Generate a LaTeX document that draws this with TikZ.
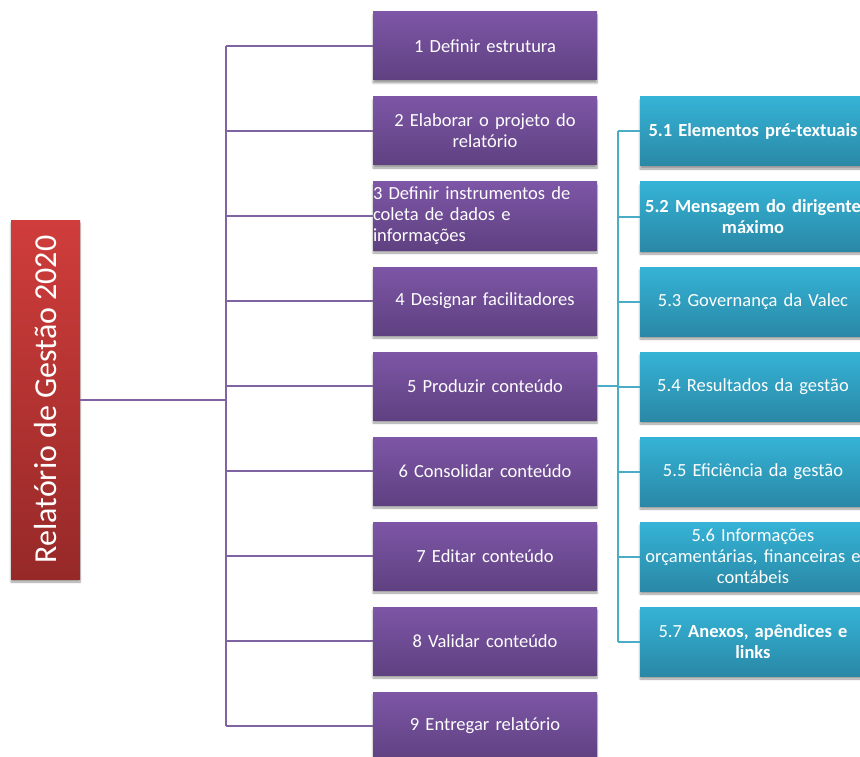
\documentclass[tikz,border=0pt]{standalone}
\usepackage{fontspec}
\setmainfont{Carlito}
\usetikzlibrary{shadows.blur}
\definecolor{pTop}{HTML}{7D56A6}
\definecolor{pBot}{HTML}{5F4181}
\definecolor{rTop}{HTML}{CF3D3B}
\definecolor{rBot}{HTML}{962928}
\definecolor{bTop}{HTML}{35B3D6}
\definecolor{bBot}{HTML}{2A88A6}
\definecolor{pLine}{HTML}{8064A2}
\definecolor{bLine}{HTML}{4BACC6}
\tikzset{
  shad/.style={blur shadow={shadow xshift=0pt,shadow yshift=-3pt,shadow blur steps=6,shadow opacity=40}},
  boxfont/.style={font=\fontsize{18.5}{21}\selectfont},
  pbox/.style={shad,rectangle,top color=pTop,bottom color=pBot,minimum width=224pt,minimum height=68pt,text=white,align=center,text width=220pt,inner sep=0pt,boxfont},
  bbox/.style={shad,rectangle,top color=bTop,bottom color=bBot,minimum width=226pt,minimum height=69pt,text=white,align=center,text width=226pt,inner sep=0pt,boxfont},
  tbox/.style={shad,rectangle,rotate=90,top color=rTop,bottom color=rBot,minimum width=359pt,minimum height=69pt,text=white,inner sep=0pt,font=\fontsize{32}{36}\selectfont},
  pconn/.style={draw=pLine,line width=2pt},
  bconn/.style={draw=bLine,line width=2pt},
}
\begin{document}
\hyphenpenalty=10000
\exhyphenpenalty=10000
\begin{tikzpicture}[x=1pt,y=-1pt]
\useasboundingbox (0,0) rectangle (860,757);
\node[tbox] (title) at (45.5,399.5) {Relatório de Gestão 2020};
\node[pbox] (p1) at (485,46) {1 Definir estrutura};
\node[pbox] (p2) at (485,131) {2 Elaborar o projeto do\\relatório};
\node[pbox,text width=224pt,align=left] (p3) at (485,216) {3 Definir instrumentos de\\coleta de dados e\\informações};
\node[pbox] (p4) at (485,301) {4 Designar facilitadores};
\node[pbox] (p5) at (485,386) {5 Produzir conteúdo};
\node[pbox] (p6) at (485,471) {6 Consolidar conteúdo};
\node[pbox] (p7) at (485,556) {7 Editar conteúdo};
\node[pbox] (p8) at (485,641) {8 Validar conteúdo};
\node[pbox] (p9) at (485,726) {9 Entregar relatório};
\node[bbox] (b1) at (753,131.5) {\textbf{5.1 Elementos pré-textuais}};
\node[bbox] (b2) at (753,216.5) {\textbf{5.2 Mensagem do dirigente\\máximo}};
\node[bbox] (b3) at (753,301.5) {5.3 Governança da Valec};
\node[bbox] (b4) at (753,386.5) {5.4 Resultados da gestão};
\node[bbox] (b5) at (753,471.5) {5.5 Eficiência da gestão};
\node[bbox] (b6) at (753,556.5) {5.6 Informações\\orçamentárias, financeiras e\\contábeis};
\node[bbox] (b7) at (753,641.5) {5.7 \textbf{Anexos, apêndices e\\links}};
\coordinate (t) at (226,399.5);
\coordinate (bt) at (618,386);
\draw[pconn] (title.south) -- (t);
\draw[pconn] (p1.west -| t) -- (p9.west -| t);
\foreach \i in {1,...,9} {\draw[pconn] (p\i.west -| t) -- (p\i.west);}
\draw[bconn] (p5.east) -- (bt);
\draw[bconn] (b1.west -| bt) -- (b7.west -| bt);
\foreach \i in {1,...,7} {\draw[bconn] (b\i.west -| bt) -- (b\i.west);}
\end{tikzpicture}
\end{document}
